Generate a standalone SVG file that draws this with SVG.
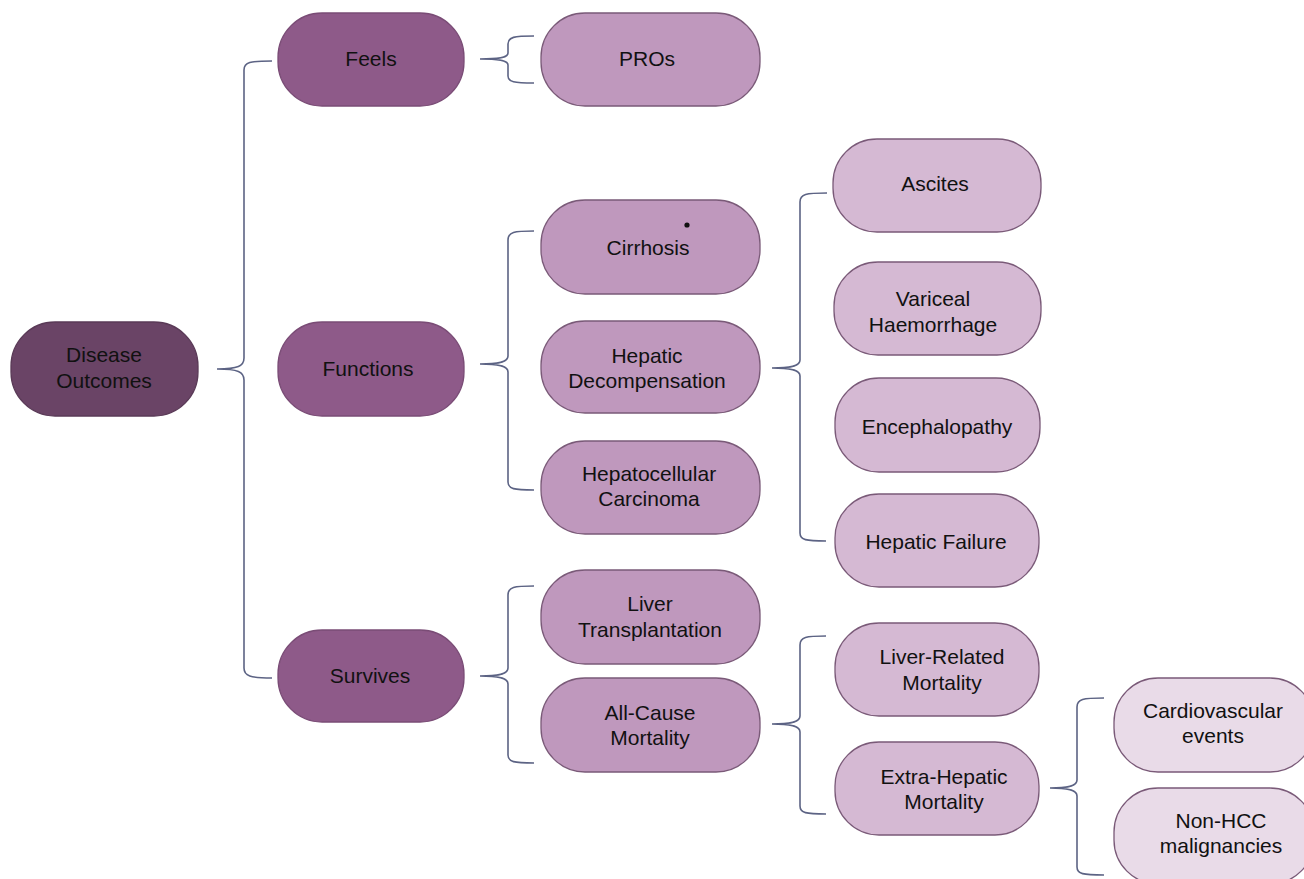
<svg xmlns="http://www.w3.org/2000/svg" width="1304" height="879" viewBox="0 0 1304 879">
<style>
.n rect{stroke:#7a5a78;stroke-width:1.3}
.l0 rect{fill:#6a4466;stroke:#5a3a57}
.l1 rect{fill:#8e5a89;stroke:#7a4c76}
.l2 rect{fill:#bf98bd}
.l3 rect{fill:#d5b9d3}
.l4 rect{fill:#e9dbe8}
text{font-family:"Liberation Sans",Arial,sans-serif;font-size:21px;fill:#111;text-anchor:middle}
.c path{fill:none;stroke:#5c6384;stroke-width:1.6}
</style>
<g class="c" id="connectors">
<path d="M272,61 C250,61 244,62 244,70 L244,358 C244,366 238,369 217,369 C238,369 244,372 244,380 L244,668 C244,676 250,678 272,678"/>
<path d="M534,36 C514,36 508,37 508,44 L508,53 C508,57 502,59 480,59 C502,59 508,61 508,65 L508,76 C508,82 514,83 534,83"/>
<path d="M534,231 C514,231 508,232 508,240 L508,356 C508,361 502,364 480,364 C502,364 508,367 508,372 L508,482 C508,489 514,490 534,490"/>
<path d="M827,193 C806,193 800,194 800,202 L800,360 C800,365 794,368 772,368 C794,368 800,371 800,376 L800,533 C800,540 806,541 826,541"/>
<path d="M534,586 C514,586 508,587 508,595 L508,668 C508,673 502,676 480,676 C502,676 508,679 508,684 L508,755 C508,762 514,763 534,763"/>
<path d="M826,636 C806,636 800,637 800,645 L800,716 C800,721 794,724 772,724 C794,724 800,727 800,732 L800,806 C800,813 806,814 826,814"/>
<path d="M1104,698 C1083,698 1077,699 1077,707 L1077,780 C1077,785 1071,788 1050,788 C1071,788 1077,791 1077,796 L1077,867 C1077,874 1083,875 1104,875"/>
</g>
<g id="disease-outcomes" class="n l0"><rect x="11" y="322" width="187" height="94" rx="44" ry="44"/><text x="104" y="362">Disease</text><text x="104" y="388">Outcomes</text></g>
<g id="feels" class="n l1"><rect x="278" y="13" width="186" height="93" rx="44" ry="44"/><text x="371" y="66">Feels</text></g>
<g id="functions" class="n l1"><rect x="278" y="322" width="186" height="94" rx="44" ry="44"/><text x="368" y="376">Functions</text></g>
<g id="survives" class="n l1"><rect x="278" y="630" width="186" height="92" rx="44" ry="44"/><text x="370" y="683">Survives</text></g>
<g id="pros" class="n l2"><rect x="541" y="13" width="219" height="93" rx="44" ry="44"/><text x="647" y="66">PROs</text></g>
<g id="cirrhosis" class="n l2"><rect x="541" y="200" width="219" height="94" rx="44" ry="44"/><text x="648" y="255">Cirrhosis</text><circle cx="687" cy="225" r="2.6" fill="#111"/></g>
<g id="hepatic-decompensation" class="n l2"><rect x="541" y="321" width="219" height="92" rx="44" ry="44"/><text x="647" y="363">Hepatic</text><text x="647" y="388">Decompensation</text></g>
<g id="hcc" class="n l2"><rect x="541" y="441" width="219" height="93" rx="44" ry="44"/><text x="649" y="481">Hepatocellular</text><text x="649" y="506">Carcinoma</text></g>
<g id="liver-transplantation" class="n l2"><rect x="541" y="570" width="219" height="94" rx="44" ry="44"/><text x="650" y="611">Liver</text><text x="650" y="637">Transplantation</text></g>
<g id="all-cause-mortality" class="n l2"><rect x="541" y="678" width="219" height="94" rx="44" ry="44"/><text x="650" y="720">All-Cause</text><text x="650" y="745">Mortality</text></g>
<g id="ascites" class="n l3"><rect x="833" y="139" width="208" height="93" rx="44" ry="44"/><text x="935" y="191">Ascites</text></g>
<g id="variceal-haemorrhage" class="n l3"><rect x="834" y="262" width="207" height="93" rx="44" ry="44"/><text x="933" y="306">Variceal</text><text x="933" y="332">Haemorrhage</text></g>
<g id="encephalopathy" class="n l3"><rect x="835" y="378" width="205" height="94" rx="44" ry="44"/><text x="937" y="434">Encephalopathy</text></g>
<g id="hepatic-failure" class="n l3"><rect x="835" y="494" width="204" height="93" rx="44" ry="44"/><text x="936" y="549">Hepatic Failure</text></g>
<g id="liver-related-mortality" class="n l3"><rect x="835" y="623" width="204" height="93" rx="44" ry="44"/><text x="942" y="664">Liver-Related</text><text x="942" y="690">Mortality</text></g>
<g id="extra-hepatic-mortality" class="n l3"><rect x="835" y="742" width="204" height="93" rx="44" ry="44"/><text x="944" y="784">Extra-Hepatic</text><text x="944" y="809">Mortality</text></g>
<g id="cardiovascular-events" class="n l4"><rect x="1114" y="678" width="200" height="94" rx="44" ry="44"/><text x="1213" y="718">Cardiovascular</text><text x="1213" y="743">events</text></g>
<g id="non-hcc-malignancies" class="n l4"><rect x="1114" y="788" width="200" height="96" rx="44" ry="44"/><text x="1221" y="828">Non-HCC</text><text x="1221" y="853">malignancies</text></g>
</svg>
